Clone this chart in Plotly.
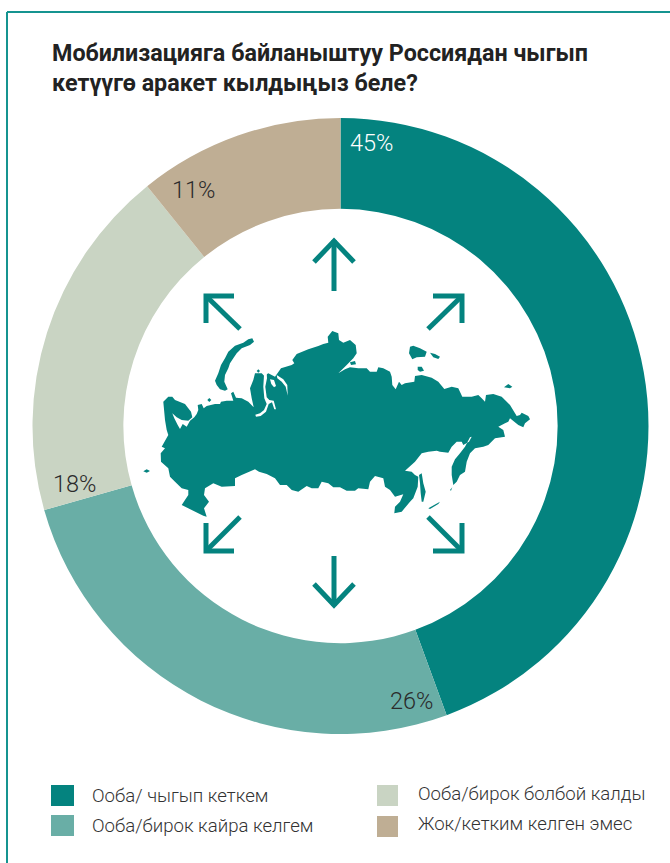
import plotly.graph_objects as go

W, H = 670, 863
TEAL = "#04837F"
DARK = "#2b2b2b"

TITLE_LINES = ["Мобилизацияга байланыштуу Россиядан чыгып", "кетүүгө аракет кылдыңыз беле?"]
CATEGORIES = ["Ооба/ чыгып кеткем", "Ооба/бирок кайра келгем", "Ооба/бирок болбой калды", "Жок/кетким келген эмес"]
ARC_SHARES = [44.4, 26.2, 18.6, 10.8]
PRINTED = ["45%", "26%", "18%", "11%"]
COLORS = [TEAL, "#69AEA6", "#C9D4C3", "#BFAE94"]
LABEL_XY = [(371.5, 143), (411, 701), (74, 484), (193, 190)]
LABEL_COLORS = ["#ffffff", DARK, DARK, DARK]
SWATCH_XY = [(51, 785, 74, 806), (51, 815, 74, 836), (377, 785, 398, 806), (377, 816, 398, 837)]
LEGEND_XY = [(92, 796), (92, 826), (418, 794), (418, 824)]

COAST_NW = ((135, 330), [(85,215),(100,200),(112,200),(120,210),(150,222),(168,245),(172,262),(160,272),(140,270),(125,262),(112,250),(118,265),(128,285),(135,297),(143,282),(155,290),(165,272),(178,262),(185,252),(190,240),(188,225),(200,222),(206,235),(215,228),(240,222),(255,222),(258,215),(275,212),(295,212),(288,190),(295,185),(303,203),(320,205),(340,215),(356,232),(350,205),(345,175),(355,150),(360,130),(380,130),(388,138),(400,130),(420,140)])
COAST_N = ((275, 330), [(18,115),(50,105),(58,100),(52,90),(65,72),(100,58),(130,48),(145,42),(160,38),(158,20),(172,3),(190,10),(192,30),(205,38),(225,30),(242,45),(245,70),(235,85),(215,105),(190,130),(210,118),(225,112),(250,115),(275,115),(285,125),(305,125),(310,112),(325,115),(345,125),(350,140),(352,165),(362,178),(372,155),(380,165)])
COAST_NE = ((405, 330), [(0,160),(28,155),(30,138),(50,135),(80,143),(100,155),(118,177),(140,170),(160,175),(172,200),(200,200),(220,195),(230,205),(240,215),(243,195),(265,192),(290,200),(315,225),(335,258),(345,255),(350,248),(370,258),(375,268),(360,280),(355,292),(340,285),(315,265),(310,275),(300,280),(280,290),(295,300)])
COAST_KAM = ((395, 430), [(330,20),(300,25),(280,45),(265,50),(240,55),(225,70),(215,95),(210,125),(195,135),(185,155),(175,165),(170,135),(170,110),(180,88),(195,70),(210,50),(225,22),(230,20),(222,35),(205,45),(200,35),(185,35),(170,50),(160,68),(135,65),(125,62),(100,65),(80,70),(60,95),(30,122),(50,125),(60,135),(70,140),(68,170),(55,205)])
COAST_S = ((275, 430), [(405,215),(380,245),(358,250),(360,230),(375,215),(385,193),(360,200),(345,180),(330,170),(325,145),(300,138),(285,155),(280,178),(250,175),(240,182),(215,182),(195,172),(175,172),(160,160),(140,155),(130,175),(110,175),(95,168),(70,185),(50,180),(35,165),(15,165),(0,145)])
COAST_SW = ((135, 430), [(395,132),(372,125),(360,118),(320,135),(300,145),(300,168),(260,170),(235,160),(210,175),(207,195),(222,215),(207,235),(215,260),(205,257),(170,240),(140,225),(160,195),(160,180),(140,175),(120,155),(105,140),(100,115),(78,95),(77,70),(90,55),(80,50),(100,15),(95,0),(90,-30)])
ISLANDS = [
    ((135, 330), [(352,25),(357,35),(345,45),(320,55),(305,70),(295,85),(285,100),(280,115),(270,135),(268,155),(278,178),(270,182),(255,178),(245,165),(240,152),(250,130),(258,105),(270,85),(280,65),(300,47),(325,38),(340,28)]),
    ((135, 330), [(223,204),(229,210),(223,216),(217,210)]),
    ((135, 330), [(370,118),(375,123),(370,128),(365,123)]),
    ((275, 330), [(225,97),(240,93),(243,103),(228,105)]),
    ((405, 330), [(15,50),(25,47),(45,55),(65,65),(60,80),(35,82),(22,88),(12,70)]),
    ((405, 330), [(75,68),(90,72),(105,80),(100,87),(85,82)]),
    ((405, 330), [(38,110),(50,110),(57,122),(45,125),(38,120)]),
    ((405, 330), [(297,172),(310,162),(322,170),(315,175)]),
    ((135, 430), [(25,124),(35,118),(45,123),(35,128)]),
    ((395, 430), [(72,135),(80,130),(85,160),(92,185),(85,215),(80,215),(77,190),(75,160)]),
    ((395, 430), [(100,235),(135,215),(130,222),(105,237)]),
    ((395, 430), [(165,180),(172,172),(168,182)]),
]
GULFS = [
    ((130, 320), [(402,165),(400,200),(403,235),(410,252),(402,270),(390,280),(376,284),(378,290),(392,288),(408,275),(416,252),(426,247),(433,268),(438,268),(431,242),(418,240),(410,232),(406,200),(411,175),(410,160)]),
    ((130, 320), [(420,178),(432,180),(438,198),(432,202),(424,192)]),
    ((130, 320), [(440,165),(460,178),(472,195),(473,227),(467,200),(455,185),(442,175)]),
]
ARROWS = [
    [(334,291),(334,240)], [(314,262),(334,241),(354,262)],
    [(240,329),(206,296)], [(234,296),(206,296),(206,323)],
    [(428,329),(462,296)], [(433,296),(462,296),(462,323)],
    [(240,517),(206,551)], [(206,523),(206,551),(234,551)],
    [(428,517),(462,551)], [(462,523),(462,551),(433,551)],
    [(334,556),(334,606)], [(314,584),(334,605),(354,584)],
]

def to_page(seg):
    (ox, oy), pts = seg
    return [(ox + x / 3, oy + y / 3) for x, y in pts]

def path(poly, close=True):
    return "M" + " L".join(f"{x:.1f},{y:.1f}" for x, y in poly) + (" Z" if close else "")

BODY = []
for seg in (COAST_NW, COAST_N, COAST_NE, COAST_KAM, COAST_S, COAST_SW):
    BODY += to_page(seg)

fig = go.Figure()
cx, cy, r = 340.5, 426, 308
fig.add_trace(go.Pie(
    values=ARC_SHARES, labels=CATEGORIES, sort=False, direction="clockwise", rotation=0,
    hole=0.705, textinfo="none", hoverinfo="skip", showlegend=False,
    marker=dict(colors=COLORS, line=dict(width=0)),
    domain=dict(x=[(cx - r) / W, (cx + r) / W], y=[1 - (cy + r) / H, 1 - (cy - r) / H]),
))
fig.add_trace(go.Scatter(x=[0, W], y=[0, H], mode="none", showlegend=False, hoverinfo="skip"))

shapes = [
    dict(type="line", x0=7, x1=7, y0=12, y1=H, line=dict(color="#159490", width=2)),
    dict(type="line", x0=7, x1=W, y0=12, y1=12, line=dict(color="#159490", width=2)),
]
shapes.append(dict(type="path", path=path(BODY), fillcolor=TEAL, line=dict(width=0)))
for s in ISLANDS:
    shapes.append(dict(type="path", path=path(to_page(s)), fillcolor=TEAL, line=dict(width=0)))
for s in GULFS:
    shapes.append(dict(type="path", path=path(to_page(s)), fillcolor="#ffffff", line=dict(width=0)))
for p in ARROWS:
    shapes.append(dict(type="path", path=path(p, close=False), line=dict(color=TEAL, width=5)))
for (x0, y0, x1, y1), c in zip(SWATCH_XY, COLORS):
    shapes.append(dict(type="rect", x0=x0, x1=x1, y0=y0, y1=y1, fillcolor=c, line=dict(width=0)))

ann = []
def text(x, y, s, size, color, weight=300, anchor="left"):
    ann.append(dict(x=x, y=y, xref="x", yref="y", text=s, showarrow=False, xanchor=anchor, yanchor="middle",
                    font=dict(family="Roboto", size=size, color=color, weight=weight)))

for s, y in zip(TITLE_LINES, (53, 83)):
    text(49.5, y, s, 23.3, "#222222", 700)
for s, (x, y), c in zip(PRINTED, LABEL_XY, LABEL_COLORS):
    text(x, y, s, 23.5, c, 300, "center")
for s, (x, y) in zip(CATEGORIES, LEGEND_XY):
    text(x - 2.5, y, s, 18.6, "#333333", 300)

for s in shapes:
    s.update(xref="x", yref="y", layer="above")

fig.update_layout(
    width=W, height=H, margin=dict(l=0, r=0, t=0, b=0), paper_bgcolor="white", plot_bgcolor="rgba(0,0,0,0)",
    xaxis=dict(range=[0, W], visible=False, fixedrange=True, domain=[0, 1]),
    yaxis=dict(range=[H, 0], visible=False, fixedrange=True, domain=[0, 1]),
    shapes=shapes, annotations=ann, showlegend=False,
)
fig.write_html("out.html", config=dict(displayModeBar=False),
               post_script="document.body.style.margin='0';document.documentElement.style.overflow='hidden';")
